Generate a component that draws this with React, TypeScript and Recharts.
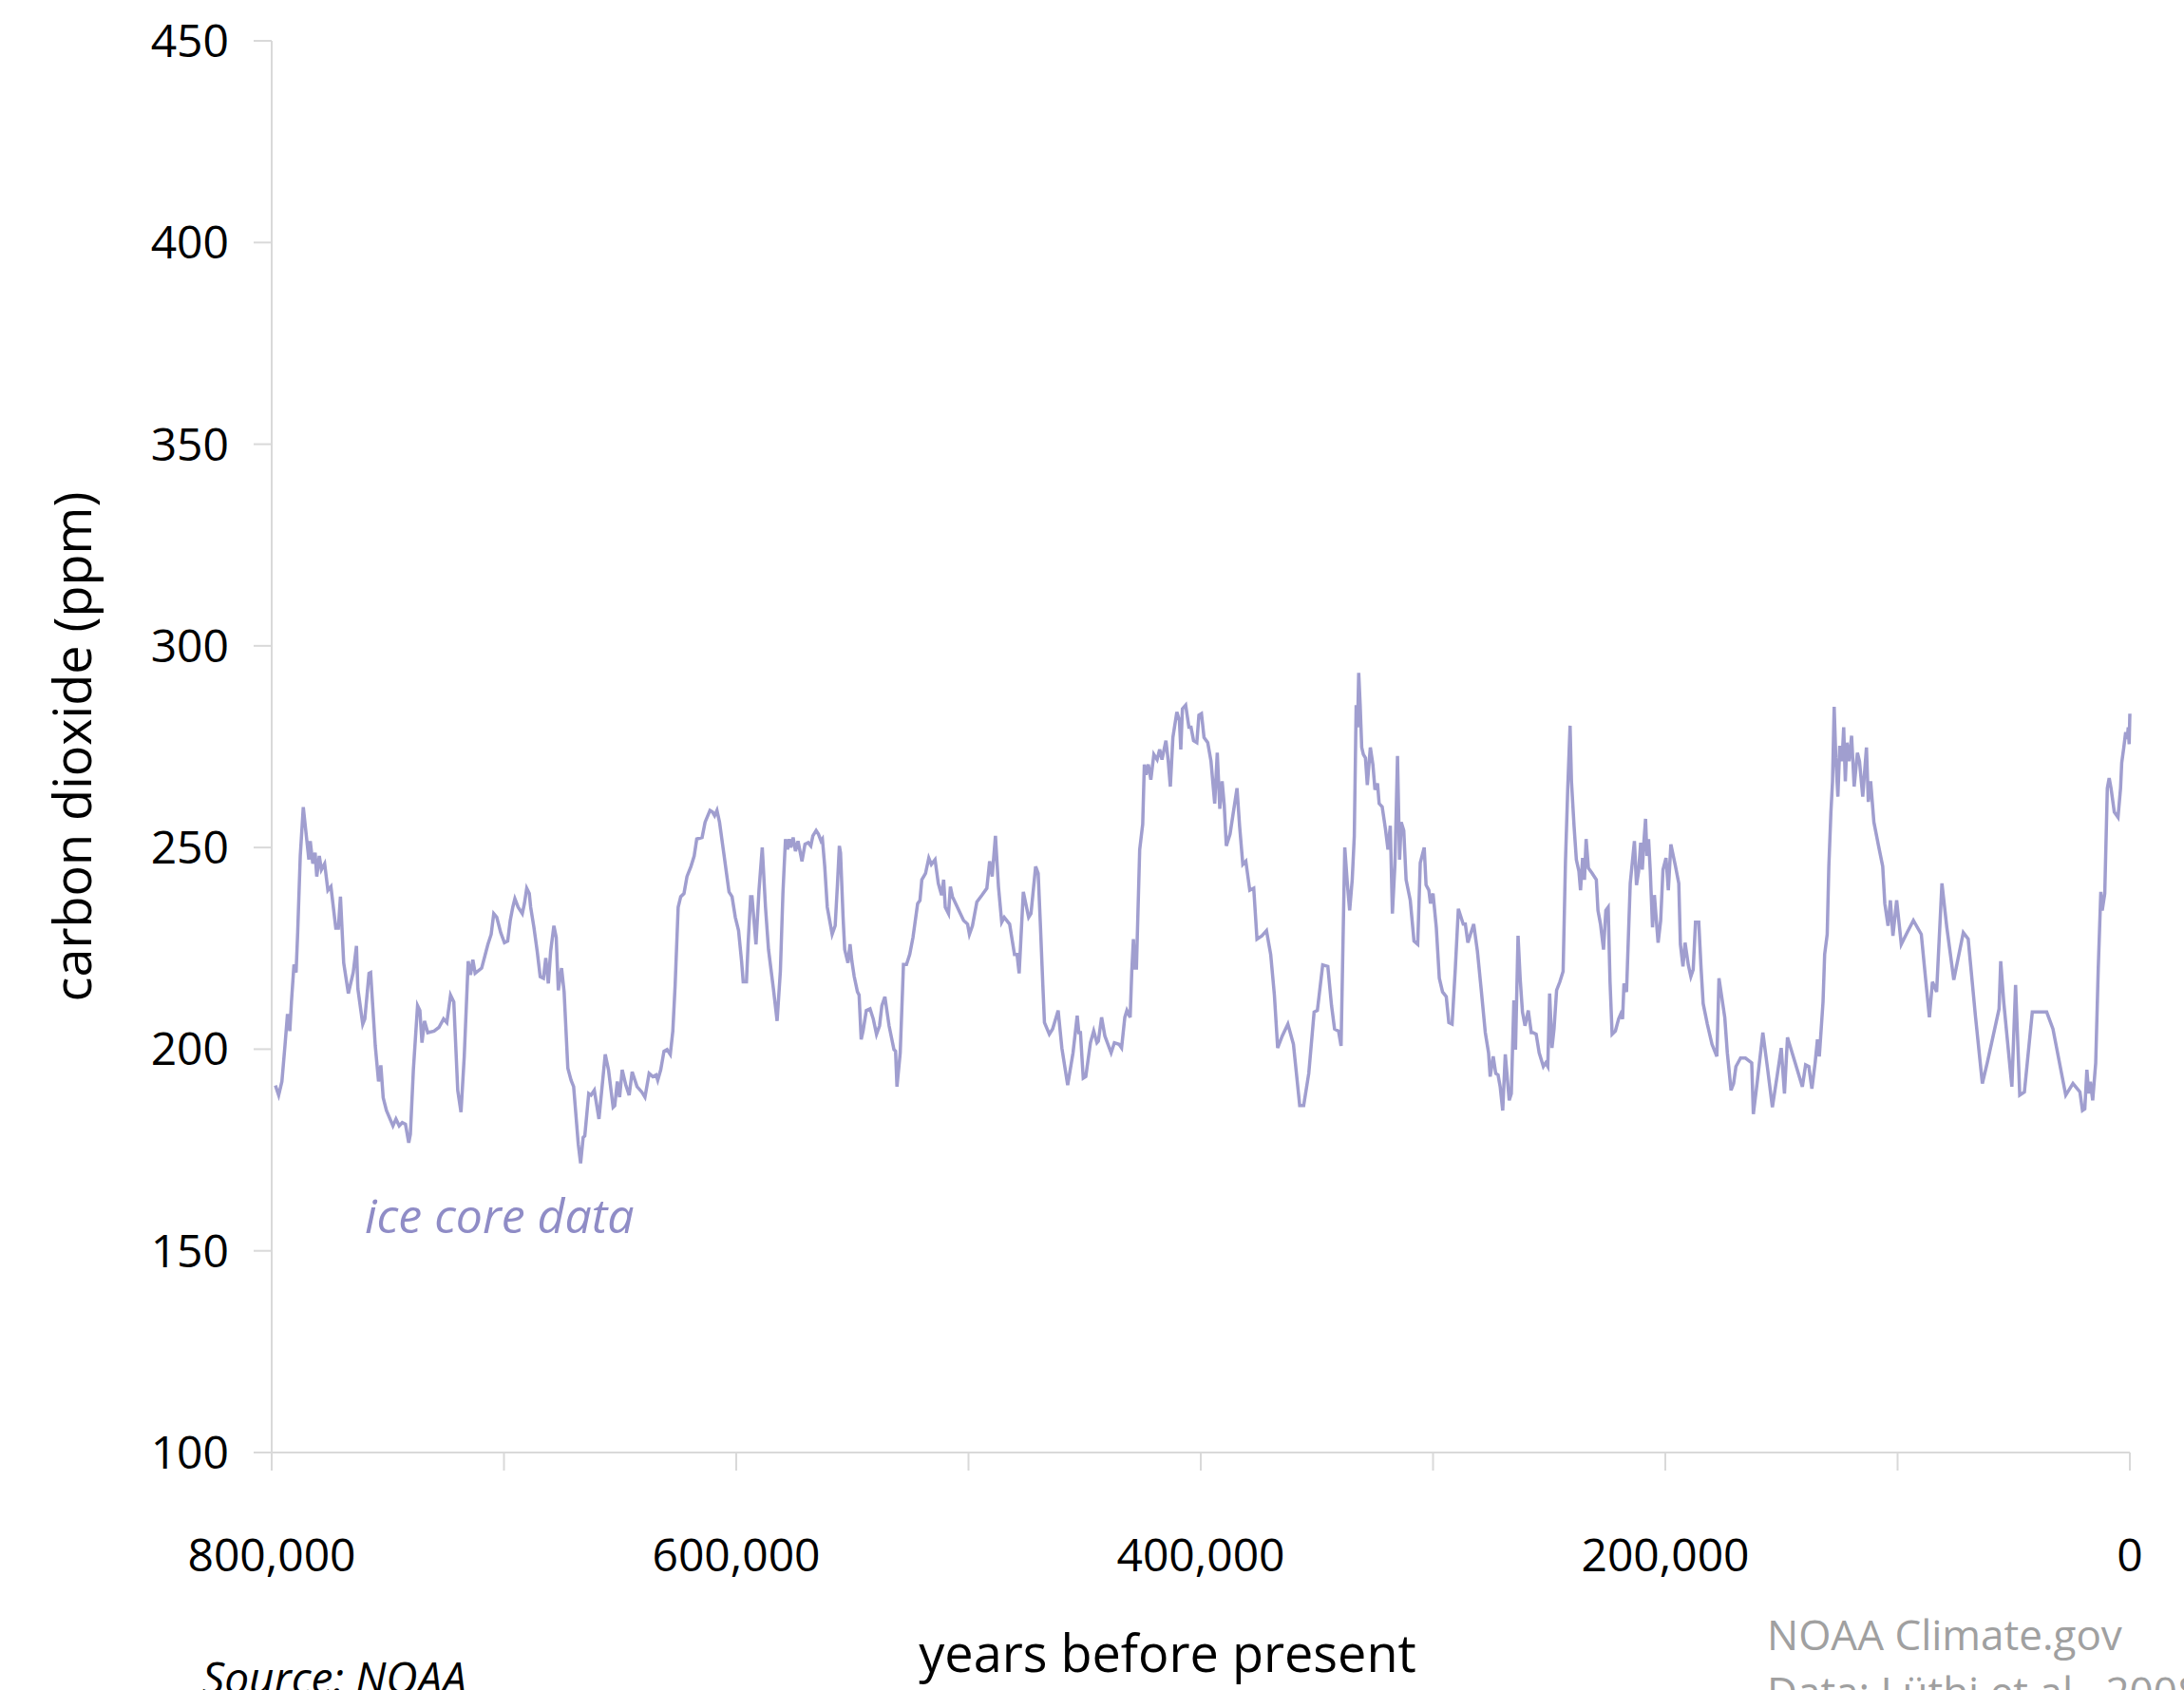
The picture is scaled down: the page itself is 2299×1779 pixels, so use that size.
import React from 'react';
import { LineChart, Line, XAxis, YAxis } from 'recharts';

const FONT = "'Open Sans', 'Noto Sans', sans-serif";

// ice core record in slices (years before present / ppm)
const yearsA = [
  798400, 797000, 795600, 794300, 793200, 792200, 791500, 790400, 789500, 788800,
  787700, 786400, 785400, 784000, 783400, 782300, 781300, 780600, 779500, 778600,
  777200, 775800, 774500, 772400, 771300, 770400, 769000, 767000, 764900, 763500,
  762900, 760800, 759900, 758100, 757400, 755400, 754000, 753000, 752000, 750600,
  747800, 746500, 745100, 743800, 742400, 741000, 740300, 739000, 737200, 736200,
  735300, 734200, 732800, 730100, 728000, 726000, 724600, 723000, 721600, 719900,
  718500, 717100, 715400, 714400, 713400, 712400, 709600, 706900, 705500, 704400,
  703100, 701400, 699800, 698400, 697300, 696200, 695300, 693900, 692100, 691200,
  690200, 689100, 688500, 687100, 685700, 684400, 683000, 682000, 680900, 679900,
  678500, 677500, 676600, 675200, 674100, 672500, 671100, 670000, 668000, 667000,
  665900, 665200, 663500,
];
const co2A = [
  191, 188.6, 192, 200.8, 208.7, 204.5, 211.7, 221, 219, 229,
  247.9, 260, 254.6, 247, 251.6, 246, 248.7, 242.8, 247.9, 244.5,
  246, 239.4, 240.3, 230, 230, 237.8, 221.4, 213.8, 219, 225.6,
  215, 206.2, 207.5, 218.8, 219, 200.8, 192, 196, 188, 184.8,
  181, 182.7, 181, 181.8, 181.4, 176.8, 178.9, 194.9, 210.8, 209.6,
  201.6, 207, 204.1, 204.5, 205.4, 207.5, 206.6, 213.4, 211.7, 189.8,
  184.4, 198.2, 221.8, 218.4, 222.2, 218.8, 220.1, 226, 228.5, 233.6,
  232.7, 228.9, 226.4, 226.8, 231.9, 235.2, 237.3, 235.2, 233.6, 236.1,
  239.9, 238.6, 235.2, 230.2, 224.3, 218, 217.6, 222.6, 216.3, 224.3,
  230.6, 227.7, 214.6, 220.1, 214.2, 195.3, 192.3, 190.7, 176.4, 171.7,
  178.1, 178.5, 189,
];

const yearsB = [
  662500, 661100, 659100, 656400, 655000, 653000, 652300, 651200, 650200, 649100,
  647500, 646100, 644800, 642700, 640700, 639300, 637500, 635900, 634500, 633800,
  632500, 631100, 629800, 628400, 627300, 626300, 625000, 623900, 622500, 621200,
  619500, 618100, 617000, 614700, 613400, 611300, 610200, 609300, 608300, 607200,
  605200, 603100, 601800, 600400, 599000, 597700, 597000, 595600, 594900, 593800,
  593200, 591500, 590200, 588800, 587400, 586100, 584000, 582400, 581000, 579900,
  578800, 577900, 577200, 576500, 575500, 574500, 573400, 571700, 570400, 569000,
  567900, 567000, 565600, 564600, 563500, 562900, 561900, 560800, 558700, 557400,
  556400, 555600, 555100, 554000, 553300, 551900, 551000, 550200, 549200, 547800,
  547100, 546200, 545400, 544000, 542400, 541000, 539600, 538300, 537300, 536000,
  534200, 532100, 531400, 530800, 529400, 528000,
];
const co2B = [
  188.6, 189.8, 182.7, 198.7, 194.9, 185.6, 186, 192, 188.1, 194.9,
  191, 188.6, 194.4, 190.7, 189.4, 188.1, 194, 193.2, 193.6, 192.3,
  194.9, 199.5, 199.9, 198.7, 204.5, 215.9, 235.2, 237.8, 238.6, 242.8,
  245.3, 247.9, 252.1, 252.5, 256.3, 259.2, 258.8, 257.9, 259.2, 256.3,
  247.9, 239, 237.8, 232.7, 229.4, 221.8, 216.7, 216.7, 226, 237.8,
  237.8, 226, 239.4, 250, 235.2, 224.7, 215, 207, 219.3, 238.6,
  252.1, 249.5, 252.1, 250, 252.5, 249.1, 251.6, 246.6, 250.8, 251.2,
  250.4, 252.9, 254.2, 253.3, 251.6, 252.1, 245.3, 235.2, 228.5, 230.6,
  241.1, 250.4, 248.7, 232.7, 224.7, 221.4, 226, 221.8, 218, 214.2,
  213.4, 202.4, 204.5, 209.6, 210, 207.5, 203.7, 205.8, 210.8, 213,
  205.8, 199.9, 199.5, 190.7, 199.1, 221,
];

const yearsC = [
  526700, 525300, 523900, 521900, 520900, 520100, 518500, 517100, 516000, 514400,
  513000, 511600, 510700, 510000, 508600, 507800, 506900, 505500, 503500, 502100,
  500400, 499600, 498300, 496400, 494200, 492100, 490900, 489800, 488400, 487100,
  485700, 484600, 482300, 480200, 479100, 478200, 476400, 474100, 473100, 471100,
  470000, 469000, 468000, 467300, 465200, 463800, 461400, 459800, 457300, 455000,
  453200, 452500, 451800, 450600, 449500, 447500, 446100, 444700, 444100, 442700,
  441300, 438600, 437200, 435200, 434100, 432700, 431800, 430400, 429700, 429000,
  428400, 427700, 426300, 425000, 424300, 423600, 422600, 421500, 420200, 418800,
  417700, 416700, 415000, 414000, 413100, 412000, 410300, 409200, 408600, 407900,
  406500, 405100, 404200, 403100, 401700, 400800, 399700, 398600, 397000, 395600,
  394000, 392900,
];
const co2C = [
  221, 223.5, 227.7, 236.1, 236.9, 242, 243.6, 247.4, 245.8, 247,
  241.1, 238.2, 242, 235.2, 233.6, 240.3, 237.8, 236.1, 233.6, 231.9,
  231, 228.5, 230.6, 236.5, 238.2, 239.9, 246.6, 242.8, 252.9, 240.3,
  231.5, 232.7, 231, 223.5, 223.5, 218.8, 239, 232.7, 233.6, 245.3,
  243.6, 230.2, 215.9, 206.6, 203.7, 205, 209.6, 200.3, 191.1, 199.1,
  208.3, 204.1, 204.1, 192.8, 193.2, 201.6, 204.5, 201.6, 202, 207.9,
  203.3, 199.1, 201.6, 201.2, 200.3, 207.9, 209.6, 207.9, 219.3, 227.3,
  220.1, 220.1, 249.5, 255.8, 270.6, 268, 270.6, 266.8, 273.1, 271.8,
  274.3, 271.8, 276.5, 271.4, 265.1, 277.3, 283.6, 281.5, 274.3, 284.4,
  285.3, 279.8, 279.8, 276.5, 276, 282.8, 283.2, 277.3, 276, 271.4,
  260.9, 273.5,
];

const yearsD = [
  391800, 390800, 389900, 389000, 387400, 384400, 383300, 381900, 380600, 378900,
  377200, 375800, 373700, 371700, 369900, 368300, 366900, 364900, 362500, 360100,
  357400, 355700, 353500, 351200, 349800, 347500, 345300, 343700, 342400, 340700,
  339600, 338000, 336900, 335900, 334800, 333900, 333100, 332500, 332000, 331400,
  330700, 330000, 329100, 328300, 327000, 325900, 325000, 323900, 323200, 321900,
  320500, 319400, 318400, 317500, 316400, 315300, 314400, 313700, 312600, 311600,
  309800, 308200, 306600, 305500, 303800, 303000, 301800, 301100, 300000, 298600,
  297300, 295900, 294300, 293200, 291800, 290400, 289100, 287000, 286100, 285000,
  282500, 280900, 279300, 277500, 276100, 275400, 274100, 273000, 272000, 271100,
  270000, 268900, 267200, 266300, 265200, 264500, 263400, 262500, 261500, 260400,
  259000, 257700,
];
const co2D = [
  259.6, 266.4, 260.5, 250.4, 253.3, 264.7, 255.4, 245.8, 246.6, 239.4,
  239.9, 227.3, 228.1, 229.4, 223.5, 213.4, 200.3, 203.3, 206.2, 201.2,
  186, 186, 194, 209.2, 209.6, 220.9, 220.5, 210.8, 205, 204.5,
  200.8, 250, 241.1, 234.4, 242, 252.9, 285.3, 279.8, 293.3, 285.7,
  274.8, 273.1, 272.2, 265.5, 274.8, 270.6, 264.3, 265.9, 260.9, 260.1,
  254.6, 249.5, 255.4, 233.6, 245.8, 272.7, 247, 256.3, 254.2, 242,
  236.9, 226.8, 226, 246.2, 250, 240.7, 239.4, 236.1, 238.6, 230.2,
  217.6, 214.2, 213, 206.6, 206.2, 220.1, 234.8, 231, 231, 226.4,
  231, 224.3, 215, 204.1, 199.1, 193.2, 198.2, 194, 193.6, 190.7,
  184.8, 198.7, 187.3, 189, 212.1, 199.9, 228.1, 217.6, 209.2, 205.8,
  209.6, 204.1,
];

const yearsE = [
  257000, 255600, 254300, 252500, 251500, 250600, 249800, 248800, 247900, 246800,
  245400, 244000, 243000, 242000, 241000, 240400, 239300, 238300, 237200, 236500,
  235600, 234800, 234100, 233100, 231500, 229700, 229000, 227900, 226600, 225600,
  224600, 223800, 222900, 221500, 220100, 219200, 218400, 217800, 216700, 215100,
  213300, 212400, 211500, 210600, 209900, 209200, 208500, 207900, 207200, 206500,
  205500, 204700, 203100, 202000, 201000, 199700, 198700, 197600, 195600, 194200,
  193500, 192400, 191500, 190100, 189000, 188000, 187000, 185600, 184600, 183700,
  181900, 179900, 177800, 176900, 174400, 173300, 171700, 170600, 169600, 167600,
  165500, 162800, 162100, 160500, 158000, 156000, 153900, 151900, 150100, 148700,
  147400, 144100, 141000, 139600, 138200, 136900, 135500, 134500, 133700, 133000,
  132100, 131400, 130300, 129600, 128700, 128000, 127300, 126600, 125700, 124900,
  123900, 123200, 122500,
];
const co2E = [
  204.1, 203.7, 199.1, 195.7, 196.6, 195.7, 213.8, 200.3, 205, 214.6,
  216.7, 219.3, 246.2, 264.7, 280.2, 266.4, 255.4, 247, 244.1, 239.4,
  247.4, 242, 252.1, 244.9, 243.6, 242, 234.4, 231, 224.7, 234.4,
  235.2, 216.7, 203.7, 204.5, 207.5, 208.7, 207.5, 216.3, 214.2, 241.1,
  251.6, 240.7, 244.1, 251.2, 244.5, 251.6, 257.1, 247.9, 252.1, 244.5,
  230.2, 238.2, 226.4, 231.9, 244.5, 247.4, 239.4, 250.8, 245.3, 241.1,
  226, 220.5, 226.4, 220.9, 218, 219.7, 231.5, 231.5, 220.1, 211.3,
  206.2, 201.2, 198.2, 217.6, 207.9, 199.1, 189.8, 191.5, 195.7, 197.8,
  197.8, 196.6, 183.9, 191.5, 204.1, 195.3, 185.6, 193.2, 200.3, 189,
  202.9, 196.6, 190.7, 196.1, 195.7, 190.2, 196.6, 202.4, 198.2, 204.1,
  211.7, 223.5, 228.5, 245.3, 258.8, 266.4, 284.9, 272.2, 262.6, 275.2,
  271.4, 279.8, 266.4,
];

const yearsF = [
  121800, 120900, 119800, 118700, 117300, 116400, 115000, 113400, 112600, 111600,
  110200, 108200, 106400, 105500, 104100, 103100, 102000, 100400, 98400, 95900,
  93200, 89800, 88100, 86300, 85000, 83200, 80900, 78800, 75800, 71700,
  69600, 66500, 63500, 61400, 56300, 55600, 54300, 50800, 49200, 47400,
  45400, 42000, 35800, 33100, 27600, 24500, 21500, 20400, 19400, 18500,
  17700, 17000, 16000, 14700, 13600, 12500, 11900, 10800, 9700, 8900,
  8100, 6700, 5100, 4000, 3500, 2600, 1800, 1100, 700, 300,
  0,
];
const co2F = [
  276, 271.4, 277.7, 265.1, 273.5, 271.4, 262.6, 274.8, 261.3, 266.4,
  256.3, 250.4, 245.3, 236.1, 230.6, 236.9, 228.1, 236.9, 226, 228.9,
  231.9, 228.5, 218.4, 207.9, 216.7, 214.2, 241.1, 230.2, 217.2, 228.9,
  227.3, 208.3, 191.5, 196.6, 210, 221.8, 211.7, 190.7, 215.9, 188.6,
  189.4, 209.2, 209.2, 205, 188.6, 191.5, 189.4, 184.8, 185.2, 194.9,
  189, 191.9, 187.3, 196.6, 220.1, 239, 234.4, 238.6, 264.7, 267.2,
  264.7, 258.8, 257.5, 264.7, 271, 274.8, 278.6, 276.9, 279.8, 275.6,
  283.2,
];

const yearsBP = [...yearsA, ...yearsB, ...yearsC, ...yearsD, ...yearsE, ...yearsF];
const co2Ppm = [...co2A, ...co2B, ...co2C, ...co2D, ...co2E, ...co2F];

const xTicks = [800000, 700000, 600000, 500000, 400000, 300000, 200000, 100000, 0];
const xTickLabels = ['800,000', '', '600,000', '', '400,000', '', '200,000', '', '0'];
const yTicks = [100, 150, 200, 250, 300, 350, 400, 450];

const data = yearsBP.map((year, i) => ({ year, co2: co2Ppm[i] }));

const AXIS = '#d9d9d9';
const LINE = '#a09ecf';

const yTitle = (props: any) => {
  const vb = props.viewBox ?? { x: 66, y: 43, width: 220, height: 1486 };
  const cx = vb.x + 9;
  const cy = vb.y + vb.height / 2;
  return (
    <text
      x={cx}
      y={cy}
      transform={`rotate(-90 ${cx} ${cy})`}
      textAnchor="middle"
      dominantBaseline="central"
      fontFamily={FONT}
      fontSize={54}
      fill="#000"
    >
      carbon dioxide (ppm)
    </text>
  );
};

const xTitle = (props: any) => {
  const vb = props.viewBox ?? { x: 286, y: 1529, width: 1956, height: 250 };
  return (
    <text
      x={vb.x + vb.width / 2 - 35}
      y={vb.y + 231}
      textAnchor="middle"
      fontFamily={FONT}
      fontSize={54}
      fill="#000"
    >
      years before present
    </text>
  );
};

export default function App() {
  return (
    <div style={{ position: 'absolute', left: 0, top: 0, width: 2299, height: 1779, background: '#fff', overflow: 'hidden' }}>
      <LineChart width={2299} height={1779} data={data} margin={{ top: 43, right: 57, bottom: 0, left: 66 }}>
        <XAxis
          type="number"
          dataKey="year"
          domain={[0, 800000]}
          reversed
          ticks={xTicks}
          interval={0}
          tickFormatter={(v: number) => xTickLabels[xTicks.indexOf(v)] ?? ''}
          height={250}
          tickSize={19}
          tickMargin={72}
          axisLine={{ stroke: AXIS, strokeWidth: 2 }}
          tickLine={{ stroke: AXIS, strokeWidth: 2 }}
          tick={{ fill: '#000', fontSize: 48, fontFamily: FONT }}
          label={xTitle}
        />
        <YAxis
          type="number"
          domain={[100, 450]}
          ticks={yTicks}
          interval={0}
          width={220}
          tickSize={19}
          tickMargin={26}
          axisLine={{ stroke: AXIS, strokeWidth: 2 }}
          tickLine={{ stroke: AXIS, strokeWidth: 2 }}
          tick={{ fill: '#000', fontSize: 48, fontFamily: FONT }}
          label={yTitle}
        />
        <Line
          type="linear"
          dataKey="co2"
          stroke={LINE}
          strokeWidth={3.5}
          dot={false}
          activeDot={false}
          isAnimationActive={false}
        />
      </LineChart>
      <svg width={2299} height={1779} style={{ position: 'absolute', left: 0, top: 0, pointerEvents: 'none' }}>
        <text x={384} y={1298} fontFamily={FONT} fontStyle="italic" fontSize={50} fill="#8f8cc6">
          ice core data
        </text>
        <text x={213} y={1783} fontFamily={FONT} fontStyle="italic" fontSize={46} fill="#000">
          Source: NOAA
        </text>
        <text x={1860} y={1737} fontFamily={FONT} fontSize={44} fill="#a0a0a0">
          NOAA Climate.gov
        </text>
        <text x={1860} y={1797} fontFamily={FONT} fontSize={44} fill="#a0a0a0">
          Data: Lüthi et al., 2008
        </text>
      </svg>
    </div>
  );
}
